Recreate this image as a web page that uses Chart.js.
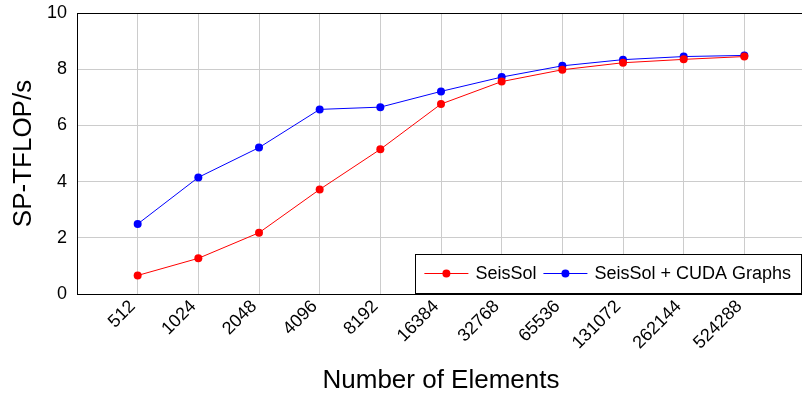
<!DOCTYPE html>
<html>
<head>
<meta charset="utf-8">
<script src="https://cdn.jsdelivr.net/npm/chart.js@4"></script>
<style>
html,body{margin:0;padding:0;background:#fff;overflow:hidden;}
#wrap{width:812px;height:396px;}
</style>
</head>
<body>
<div id="wrap"><canvas id="ch"></canvas></div>
<script>
// chart data
const elements = ['512','1024','2048','4096','8192','16384','32768','65536','131072','262144','524288'];
const seissol = [0.66,1.27,2.18,3.72,5.15,6.76,7.56,7.98,8.23,8.35,8.45];
const seissolGraphs = [2.49,4.15,5.21,6.57,6.65,7.21,7.72,8.12,8.34,8.45,8.49];
const yTicks = [0,2,4,6,8,10];
const seriesNames = ['SeisSol','SeisSol + CUDA Graphs'];

const FONT = "'Liberation Sans', Arial, sans-serif";
const toPts = arr => arr.map((v,i)=>({x:i,y:v}));

// frame round the plot area
const framePlugin = {
  id:'frame',
  afterDatasetsDraw(chart){
    const {ctx, chartArea:a} = chart;
    ctx.save();
    ctx.strokeStyle = '#000'; ctx.lineWidth = 1;
    ctx.strokeRect(Math.round(a.left)+0.5, Math.round(a.top)+0.5, Math.round(a.right-a.left), Math.round(a.bottom-a.top));
    ctx.restore();
  }
};

// legend box inside the plot, bottom right (pgfplots style)
const boxLegend = {
  id:'boxLegend',
  afterDraw(chart){
    const {ctx, chartArea:a} = chart;
    ctx.save();
    ctx.font = '18px ' + FONT;
    const lineLen = 44, padL = 9, gapTxt = 7, gapItem = 7, h = 39;
    const widths = chart.data.datasets.map(d=>ctx.measureText(d.label).width);
    let w = padL;
    widths.forEach((tw,i)=>{ w += lineLen + gapTxt + tw + (i<widths.length-1?gapItem:0); });
    w += 10;
    const right = Math.round(a.right) - 4, bottom = Math.round(a.bottom) - 1;
    const left = right - w, top = bottom - h;
    ctx.fillStyle = '#fff';
    ctx.fillRect(left, top, w, h);
    ctx.strokeStyle = '#000'; ctx.lineWidth = 1;
    ctx.strokeRect(Math.round(left)+0.5, top+0.5, Math.round(w), h);
    const cy = top + h/2;
    let x = left + padL;
    chart.data.datasets.forEach((d,i)=>{
      ctx.strokeStyle = d.borderColor; ctx.lineWidth = 1;
      ctx.beginPath(); ctx.moveTo(x, cy); ctx.lineTo(x+lineLen, cy); ctx.stroke();
      ctx.fillStyle = d.backgroundColor;
      ctx.beginPath(); ctx.arc(x+lineLen/2, cy, 4, 0, Math.PI*2); ctx.fill();
      x += lineLen + gapTxt;
      ctx.fillStyle = '#000'; ctx.textBaseline = 'middle'; ctx.textAlign = 'left';
      ctx.fillText(d.label, x, cy+1);
      x += widths[i] + gapItem;
    });
    ctx.restore();
  }
};

new Chart(document.getElementById('ch'),{
  type:'line',
  data:{datasets:[
    {label:seriesNames[0],data:toPts(seissol),borderColor:'#ff0000',backgroundColor:'#ff0000',
     borderWidth:1,pointRadius:4,pointBorderWidth:0,tension:0},
    {label:seriesNames[1],data:toPts(seissolGraphs),borderColor:'#0000ff',backgroundColor:'#0000ff',
     borderWidth:1,pointRadius:4,pointBorderWidth:0,tension:0}
  ]},
  options:{
    responsive:true,maintainAspectRatio:false,animation:false,
    layout:{padding:{left:0,top:13,right:7,bottom:0}},
    plugins:{legend:{display:false},tooltip:{enabled:false}},
    scales:{
      x:{type:'linear',min:-1,max:11,
        afterBuildTicks:s=>{ s.ticks = elements.map((_,i)=>({value:i})); },
        afterFit:s=>{ s.height = 102; s.paddingLeft = 0; s.paddingRight = 0; },
        grid:{color:'#cccccc',lineWidth:1,drawTicks:false},
        border:{color:'#000',width:1},
        ticks:{autoSkip:false,minRotation:45,maxRotation:45,padding:2,labelOffset:-5,color:'#000',
          font:{family:FONT,size:18},callback:v=>elements[v]},
        title:{display:true,text:'Number of Elements',color:'#000',
          font:{family:FONT,size:26},padding:{top:0,bottom:0}}
      },
      y:{min:0,max:10,
        afterBuildTicks:s=>{ s.ticks = yTicks.map(v=>({value:v})); },
        afterFit:s=>{ s.width = 77; s.paddingTop = 0; s.paddingBottom = 0; },
        grid:{color:'#cccccc',lineWidth:1,drawTicks:false},
        border:{color:'#000',width:1},
        ticks:{padding:10,color:'#000',font:{family:FONT,size:18}},
        title:{display:true,text:'SP-TFLOP/s',color:'#000',
          font:{family:FONT,size:26},padding:{top:8,bottom:0}}
      }
    }
  },
  plugins:[framePlugin,boxLegend]
});
</script>
</body>
</html>
